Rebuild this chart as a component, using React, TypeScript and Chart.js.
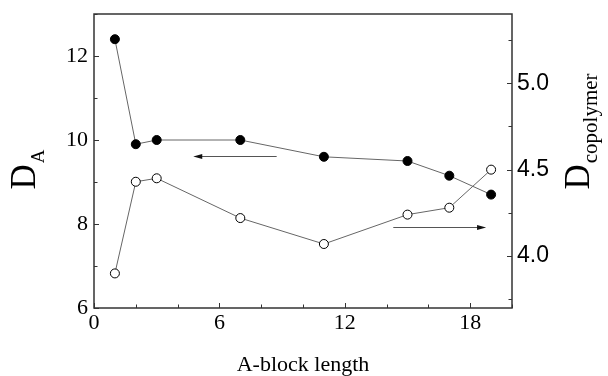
import React, { useEffect, useRef } from 'react';
import { Chart, registerables } from 'chart.js';

Chart.register(...registerables);

// ---- data ----
const blockLength = [1, 2, 3, 7, 11, 15, 17, 19];
const dA = [12.4, 9.9, 10.0, 10.0, 9.6, 9.5, 9.15, 8.7];
const dCopolymer = [3.9, 4.43, 4.45, 4.22, 4.07, 4.24, 4.28, 4.5];

const xTickValues = [0, 2, 4, 6, 8, 10, 12, 14, 16, 18, 20];
const xTickLabels = [0, 6, 12, 18];
const leftTickValues = [6, 7, 8, 9, 10, 11, 12, 13];
const leftTickLabels = [6, 8, 10, 12];
const rightTickValues = [3.75, 4.0, 4.25, 4.5, 4.75, 5.0, 5.25];
const rightTickLabels = [4.0, 4.5, 5.0];

const xTitle = 'A-block length';
const leftTitle = 'D';
const leftTitleSub = 'A';
const rightTitle = 'D';
const rightTitleSub = 'copolymer';

// arrows (data coordinates): [x1, x2, y]
const leftArrow = [8.74, 4.75, 9.61];
const rightArrow = [14.32, 18.76, 4.167];

const SERIF = "'Liberation Serif', 'Times New Roman', serif";
const SANS = "'Liberation Sans', Arial, sans-serif";

const has = (arr: number[], v: number) => arr.some((a) => Math.abs(a - v) < 1e-6);

const decorPlugin = {
  id: 'decor',
  afterDraw(chart: any) {
    const ctx = chart.ctx as CanvasRenderingContext2D;
    const { left, right, top, bottom } = chart.chartArea;
    const x = chart.scales.x;
    const yL = chart.scales.yL;
    const yR = chart.scales.yR;
    ctx.save();
    // frame
    ctx.strokeStyle = '#333';
    ctx.lineWidth = 1.5;
    ctx.strokeRect(left, top, right - left, bottom - top);
    // ticks inside
    ctx.lineWidth = 1;
    ctx.beginPath();
    xTickValues.forEach((v) => {
      const px = Math.round(x.getPixelForValue(v)) + 0.5;
      const len = has(xTickLabels, v) ? 5 : 3.5;
      ctx.moveTo(px, bottom);
      ctx.lineTo(px, bottom - len);
    });
    leftTickValues.forEach((v) => {
      const py = Math.round(yL.getPixelForValue(v)) + 0.5;
      const len = has(leftTickLabels, v) ? 5 : 3.5;
      ctx.moveTo(left, py);
      ctx.lineTo(left + len, py);
    });
    rightTickValues.forEach((v) => {
      const py = Math.round(yR.getPixelForValue(v)) + 0.5;
      const len = has(rightTickLabels, v) ? 5 : 3.5;
      ctx.moveTo(right, py);
      ctx.lineTo(right - len, py);
    });
    ctx.stroke();

    // arrows
    const drawArrow = (x1: number, x2: number, y: number) => {
      const py = Math.round(y) + 0.5;
      const dir = x2 > x1 ? 1 : -1;
      ctx.strokeStyle = '#555';
      ctx.lineWidth = 1;
      ctx.beginPath();
      ctx.moveTo(x1, py);
      ctx.lineTo(x2 - dir * 6, py);
      ctx.stroke();
      ctx.fillStyle = '#111';
      ctx.beginPath();
      ctx.moveTo(x2, py);
      ctx.lineTo(x2 - dir * 9, py - 2.5);
      ctx.lineTo(x2 - dir * 9, py + 2.5);
      ctx.closePath();
      ctx.fill();
    };
    drawArrow(x.getPixelForValue(leftArrow[0]), x.getPixelForValue(leftArrow[1]), yL.getPixelForValue(leftArrow[2]));
    drawArrow(x.getPixelForValue(rightArrow[0]), x.getPixelForValue(rightArrow[1]), yR.getPixelForValue(rightArrow[2]));

    // titles
    ctx.fillStyle = '#000';
    ctx.textBaseline = 'alphabetic';
    // x title
    ctx.font = `22px ${SERIF}`;
    ctx.textAlign = 'center';
    ctx.fillText(xTitle, (left + right) / 2, 371);

    const drawRotated = (cx: number, cy: number, main: string, sub: string, mainSize: number, subSize: number, subDrop: number) => {
      ctx.save();
      ctx.translate(cx, cy);
      ctx.rotate(-Math.PI / 2);
      ctx.textAlign = 'left';
      ctx.font = `${mainSize}px ${SERIF}`;
      const w1 = ctx.measureText(main).width;
      ctx.font = `${subSize}px ${SERIF}`;
      const w2 = ctx.measureText(sub).width;
      const start = -(w1 + w2) / 2;
      ctx.font = `${mainSize}px ${SERIF}`;
      ctx.fillText(main, start, 0);
      ctx.font = `${subSize}px ${SERIF}`;
      ctx.fillText(sub, start + w1 + 1, subDrop);
      ctx.restore();
    };
    drawRotated(35, 170, leftTitle, leftTitleSub, 35, 19, 9);
    drawRotated(589, 132, rightTitle, rightTitleSub, 35, 21, 8);
    ctx.restore();
  },
};

export default function App() {
  const ref = useRef<HTMLCanvasElement | null>(null);
  useEffect(() => {
    document.body.style.margin = '0';
    const canvas = ref.current!;
    const chart = new Chart(canvas, {
      type: 'line',
      data: {
        datasets: [
          {
            label: 'D_A',
            data: blockLength.map((v, i) => ({ x: v, y: dA[i] })),
            yAxisID: 'yL',
            borderColor: '#666',
            borderWidth: 1,
            pointRadius: 4.5,
            pointBackgroundColor: '#000',
            pointBorderColor: '#000',
            pointBorderWidth: 1,
            tension: 0,
          },
          {
            label: 'D_copolymer',
            data: blockLength.map((v, i) => ({ x: v, y: dCopolymer[i] })),
            yAxisID: 'yR',
            borderColor: '#666',
            borderWidth: 1,
            pointRadius: 4.5,
            pointBackgroundColor: '#fff',
            pointBorderColor: '#000',
            pointBorderWidth: 1,
            tension: 0,
          },
        ],
      },
      options: {
        animation: false,
        responsive: false,
        maintainAspectRatio: false,
        devicePixelRatio: 1,
        layout: { padding: { top: 14, left: 0, right: 0, bottom: 0 } },
        plugins: { legend: { display: false }, tooltip: { enabled: false } },
        scales: {
          x: {
            type: 'linear',
            min: 0,
            max: 20,
            afterBuildTicks: (s: any) => {
              s.ticks = xTickValues.map((v) => ({ value: v }));
            },
            afterFit: (s: any) => {
              s.height = 68;
              s.paddingLeft = 0;
              s.paddingRight = 0;
            },
            ticks: {
              autoSkip: false,
              maxRotation: 0,
              padding: 2,
              color: '#000',
              font: { family: SERIF, size: 22 },
              callback: (v: any) => (has(xTickLabels, Number(v)) ? String(v) : ''),
            },
            grid: { display: false, drawTicks: false },
            border: { display: false },
          },
          yL: {
            type: 'linear',
            position: 'left',
            min: 6,
            max: 13,
            afterBuildTicks: (s: any) => {
              s.ticks = leftTickValues.map((v) => ({ value: v }));
            },
            afterFit: (s: any) => {
              s.width = 94;
              s.paddingTop = 0;
              s.paddingBottom = 0;
            },
            ticks: {
              autoSkip: false,
              padding: 6,
              color: '#000',
              font: { family: SERIF, size: 22 },
              callback: (v: any) => (has(leftTickLabels, Number(v)) ? String(v) : ''),
            },
            grid: { display: false, drawTicks: false },
            border: { display: false },
          },
          yR: {
            type: 'linear',
            position: 'right',
            min: 3.7,
            max: 5.4,
            afterBuildTicks: (s: any) => {
              s.ticks = rightTickValues.map((v) => ({ value: v }));
            },
            afterFit: (s: any) => {
              s.width = 96;
              s.paddingTop = 0;
              s.paddingBottom = 0;
            },
            ticks: {
              autoSkip: false,
              padding: 5,
              color: '#000',
              font: { family: SANS, size: 23 },
              callback: (v: any) => (has(rightTickLabels, Number(v)) ? Number(v).toFixed(1) : ''),
            },
            grid: { display: false, drawTicks: false },
            border: { display: false },
          },
        },
      },
      plugins: [decorPlugin],
    });
    return () => chart.destroy();
  }, []);
  return (
    <div style={{ position: 'fixed', left: 0, top: 0, width: 608, height: 376, background: '#fff' }}>
      <canvas ref={ref} width={608} height={376} style={{ display: 'block', width: 608, height: 376 }} />
    </div>
  );
}
